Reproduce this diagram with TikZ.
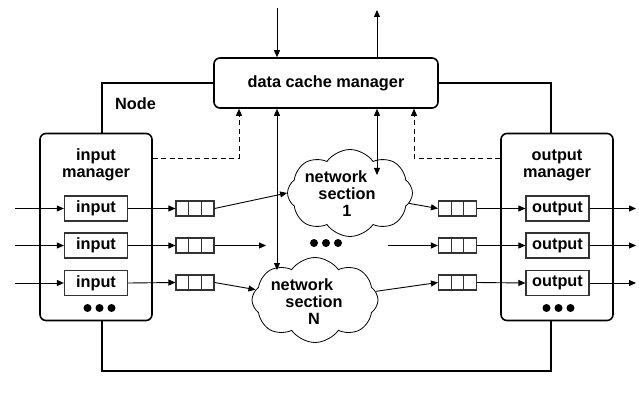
\documentclass[tikz,border=0pt]{standalone}
\usepackage{fontspec}
\setmainfont{Liberation Sans}
\usetikzlibrary{shapes.symbols,arrows.meta,calc}
\begin{document}
\begin{tikzpicture}[x=1pt,y=-1pt,
  font=\fontsize{16.3}{17}\selectfont\bfseries,
  mgr/.style={draw, line width=1.6pt, rounded corners=6pt},
  slot/.style={draw=black!80, line width=1.2pt, minimum width=63pt, minimum height=25pt, inner sep=0pt},
  queue/.style={draw=black!80, line width=1.1pt, minimum width=38pt, minimum height=15pt, inner sep=0pt,
    path picture={\foreach \f in {1,2}{\draw[black!80, line width=1.1pt]
      ($(path picture bounding box.north west)!\f/3!(path picture bounding box.north east)$) --
      ($(path picture bounding box.south west)!\f/3!(path picture bounding box.south east)$);}}},
  arr/.style={-{Triangle[length=7pt,width=6pt]}, line width=0.9pt},
  dblarr/.style={{Triangle[length=7pt,width=6pt]}-{Triangle[length=7pt,width=6pt]}, line width=0.9pt},
  dsh/.style={-{Triangle[length=7pt,width=6pt]}, line width=0.9pt, dash pattern=on 5pt off 3.5pt},
  outline/.style={line width=2.6pt},
  netcloud/.style={cloud, draw, fill=white, cloud puffs=8, cloud puff arc=110, cloud ignores aspect, line width=0.8pt, inner sep=0pt},
  txt/.style={align=center, inner sep=0pt},
  dot/.style={fill=black}
]
\useasboundingbox (0,0) rectangle (639,398);

% managers
\node[mgr, minimum width=224pt, minimum height=50pt] (dc) at (326,83) {data cache manager};
\node[mgr, minimum width=112pt, minimum height=187pt] (im) at (96,227) {};
\node[mgr, minimum width=112pt, minimum height=187pt] (om) at (557,227) {};
\node[txt] (imt) at (96,165) {input\\manager};
\node[txt] (omt) at (557,165) {output\\manager};
\node[anchor=west, inner sep=0pt] (nl) at (115,104) {Node};

% node outline
\coordinate (bot) at (326,371);
\draw[outline] (dc.west) -| ([xshift=6pt]im.north);
\draw[outline] (dc.east) -| ([xshift=-6pt]om.north);
\draw[outline] ([xshift=6pt]im.south) |- (bot) -| ([xshift=-6pt]om.south);

% input and output slots
\node[slot] (in1) at (96,208.5) {input};
\node[slot] (in2) at (96,245.5) {input};
\node[slot] (in3) at (96,283) {input};
\node[slot] (out1) at (557.5,208.5) {output};
\node[slot] (out2) at (557.5,245.5) {output};
\node[slot] (out3) at (557.5,283) {output};

% queues
\node[queue] (q1) at (195,208.5) {};
\node[queue] (q2) at (195,245.5) {};
\node[queue] (q3) at (195,282.5) {};
\node[queue] (r1) at (457.5,208.5) {};
\node[queue] (r2) at (457.5,245.5) {};
\node[queue] (r3) at (457.5,282.5) {};

% network sections
\node[netcloud, minimum width=125pt, minimum height=87pt] (c1) at (350,193) {};
\node[netcloud, minimum width=126pt, minimum height=85pt] (cN) at (315,300) {};
\node[txt] (c1t) at (347,194) {network\hspace*{22pt}\\section\\1};
\node[txt] (cNt) at (314,302) {network\hspace*{24pt}\\section\\N};

% ellipsis dots
\foreach \x in {87.5,99.5,111.5} \fill[dot] (\x,308) circle (4pt);
\foreach \x in {314,326,338} \fill[dot] (\x,243) circle (4pt);
\foreach \x in {546.5,558.5,570.5} \fill[dot] (\x,308) circle (4pt);

% external links of the cache manager
\coordinate (tin) at (277,8);
\coordinate (tout) at (377,10);
\draw[arr] (tin) -- (tin |- dc.north);
\draw[arr] (tout |- dc.north) -- (tout);

% cache links to network sections
\coordinate (hN) at (277,270);
\coordinate (h1) at (377,175);
\draw[dblarr] (hN |- dc.south) -- (hN);
\draw[dblarr] (h1 |- dc.south) -- (h1);

% dashed control links
\coordinate (dl) at (239,158);
\coordinate (dr) at (414,158);
\draw[dsh] (im.east |- dl) -| (dl |- dc.south);
\draw[dsh] (om.west |- dr) -| (dr |- dc.south);

% inputs and outputs
\foreach \k/\y in {1/208.5,2/245.5,3/283} {
  \coordinate (i\k) at (15,\y);
  \coordinate (o\k) at (636,\y);
  \draw[arr] (i\k) -- (in\k.west);
  \draw[arr] (out\k.east) -- (o\k);
}
\draw[arr] (in1.east) -- (q1.west);
\draw[arr] (in2.east) -- (q2.west);
\draw[arr] (in3.east) -- (q3.west);

% queues to network sections
\coordinate (m2) at (266,245.5);
\coordinate (m2r) at (388,245.5);
\draw[arr] (q1.east) -- (c1.west);
\draw[arr] (q2.east) -- (m2);
\draw[arr] (q3.east) -- (cN);
\draw[arr] (c1) -- (r1.west);
\draw[arr] (m2r) -- (r2.west);
\draw[arr] (cN) -- (r3.west);

% queues to output slots
\draw[arr] (r1.east) -- (out1.west);
\draw[arr] (r2.east) -- (out2.west);
\draw[arr] (r3.east) -- (out3.west);
\end{tikzpicture}
\end{document}
